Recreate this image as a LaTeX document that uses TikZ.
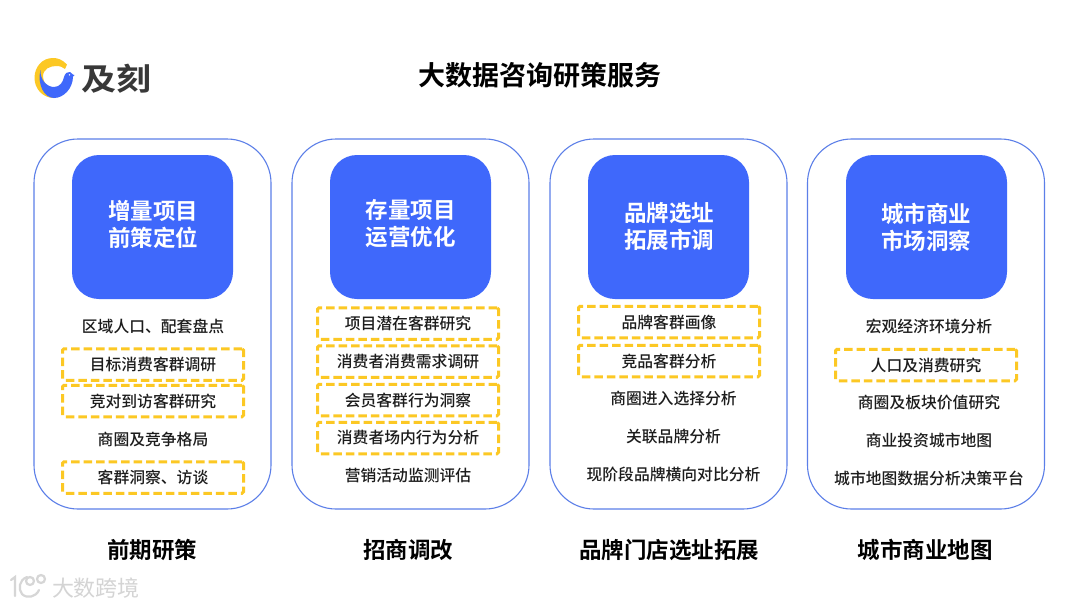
\documentclass[tikz,border=0pt]{standalone}
\usepackage{fontspec}
\setmainfont{Noto Sans CJK SC}
\newfontfamily\cjkb{Noto Sans CJK SC Bold}
\newfontfamily\cjkm{Noto Sans CJK SC Medium}
\definecolor{blueA}{HTML}{3F68FB}
\definecolor{edgeA}{HTML}{5C7FE8}
\definecolor{yelA}{HTML}{FCC824}
\definecolor{inkA}{HTML}{1C1C1C}
\tikzset{
 x=1pt,y=-1pt,
 panel/.style={draw=edgeA,line width=1.1pt,fill=white,rounded corners=44pt,minimum width=237pt,minimum height=370pt,inner sep=0},
 head/.style={fill=blueA,rounded corners=27pt,minimum width=161pt,minimum height=144pt,inner sep=0},
 headtext/.style={inner sep=0,text=white,align=center,font=\cjkb\fontsize{22.5}{27}\selectfont},
 item/.style={text=inkA,inner sep=0,font=\cjkm\fontsize{15.8}{18}\selectfont},
 dbox/.style={draw=yelA,line width=3pt,dash pattern=on 8.5pt off 4pt,rounded corners=1.5pt,minimum width=181pt,minimum height=31.5pt,inner sep=0,text=inkA,font=\cjkm\fontsize{15.8}{18}\selectfont},
 foot/.style={text=black,inner sep=0,font=\cjkb\fontsize{22.5}{27}\selectfont},
}
\begin{document}
\begin{tikzpicture}
\useasboundingbox (0,0) rectangle (1080,608);
\fill[white] (0,0) rectangle (1080,608);
\node[text=black,inner sep=0,font=\cjkb\fontsize{27}{32}\selectfont] (title) at (539.5,75.5) {大数据咨询研策服务};
% logo
\fill[yelA] (67,64.5) .. controls (62,59.5) and (58,58) .. (53,58) .. controls (42,58) and (34.5,67) .. (34.5,78) .. controls (34.5,89) and (43,98) .. (54,98) -- (56,90) .. controls (48,88) and (43,83) .. (43,76.5) .. controls (43,69) and (50,66) .. (56,66) .. controls (60,66) and (63,67) .. (65,69) -- cycle;
\fill[blueA] (40.5,70) .. controls (40,80) and (47,87) .. (54,87) .. controls (60,87) and (63,82) .. (64,77) .. controls (65,73) and (68,71.5) .. (70,72) .. controls (71.5,72.3) and (72,73.5) .. (73,74.5) -- (74.5,75) -- (73,76.5) .. controls (73,88) and (64,98) .. (54,98) .. controls (44,98) and (37,84) .. (40.5,70) -- cycle;
\fill[white] (69.5,74.8) circle (.8);
\node[text=black!78,inner sep=0,font=\cjkb\fontsize{35}{35}\selectfont,xscale=1,yscale=.88] (logotext) at (116,79) {及刻};
% watermark
\begin{scope}[draw=black!16,line width=2.2pt,fill=none,line cap=round]
\draw (11,580) -- (15,577) -- (15,596);
\draw (27,577) .. controls (19,580) and (18,589) .. (22,594) .. controls (27,599) and (36,597) .. (39,590);
\draw (30,581) circle (4) (41,579) circle (4);
\end{scope}
\node[text=black!17,inner sep=0,font=\fontsize{22}{24}\selectfont] (mark) at (96,588) {大数跨境};
% panels
\foreach \n/\x in {a/152.5,b/410.5,c/668.5,d/926}{
 \node[panel] (p\n) at (\x,324) {};
}
% column 1
\node[head] (ha) at (152.5,227) {};
\node[headtext] (hat) at (153,224) {增量项目\\前策定位};
\node[item] (a1) at (153,326.5) {区域人口、配套盘点};
\node[dbox] (a2) at (153,364.5) {目标消费客群调研};
\node[dbox] (a3) at (153,401) {竞对到访客群研究};
\node[item] (a4) at (153,439.5) {商圈及竞争格局};
\node[dbox] (a5) at (153,477.5) {客群洞察、访谈};
\node[foot] (fa) at (152,549.5) {前期研策};
% column 2
\node[head] (hb) at (410.5,227) {};
\node[headtext] (hbt) at (410.5,224) {存量项目\\运营优化};
\node[dbox] (b1) at (408,323.5) {项目潜在客群研究};
\node[dbox] (b2) at (408,361.5) {消费者消费需求调研};
\node[dbox] (b3) at (408,400) {会员客群行为洞察};
\node[dbox] (b4) at (408,438) {消费者场内行为分析};
\node[item] (b5) at (408,475.5) {营销活动监测评估};
\node[foot] (fb) at (408,549.5) {招商调改};
% column 3
\node[head] (hc) at (668.5,227) {};
\node[headtext] (hct) at (669,227) {品牌选址\\拓展市调};
\node[dbox] (c1) at (669,322) {品牌客群画像};
\node[dbox] (c2) at (669,361) {竞品客群分析};
\node[item] (c3) at (673.5,398.5) {商圈进入选择分析};
\node[item] (c4) at (673.5,436.5) {关联品牌分析};
\node[item] (c5) at (673.5,474.5) {现阶段品牌横向对比分析};
\node[foot] (fc) at (669,549.5) {品牌门店选址拓展};
% column 4
\node[head] (hd) at (926.5,227) {};
\node[headtext] (hdt) at (926,227) {城市商业\\市场洞察};
\node[item] (d1) at (929,326.5) {宏观经济环境分析};
\node[dbox] (d2) at (926,365) {人口及消费研究};
\node[item] (d3) at (929,402.5) {商圈及板块价值研究};
\node[item] (d4) at (929,440.5) {商业投资城市地图};
\node[item] (d5) at (929,478.5) {城市地图数据分析决策平台};
\node[foot] (fd) at (925,549.5) {城市商业地图};
\end{tikzpicture}
\end{document}
